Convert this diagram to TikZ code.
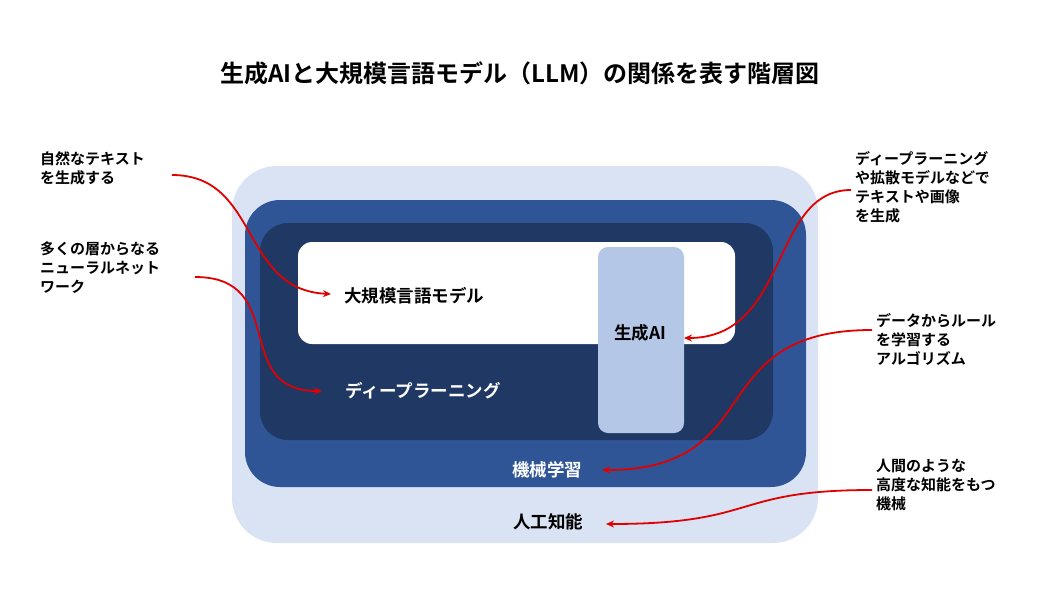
\documentclass[tikz,border=0pt]{standalone}
\usepackage{fontspec}
\setmainfont{Noto Sans CJK JP}[BoldFont={Noto Sans CJK JP Bold}]
\usetikzlibrary{arrows.meta}
\definecolor{ailight}{HTML}{DAE3F3}
\definecolor{mlblue}{HTML}{2F5597}
\definecolor{dlblue}{HTML}{203864}
\definecolor{genai}{HTML}{B4C7E7}
\definecolor{arr}{HTML}{E00000}
\tikzset{
 lab/.style={font=\bfseries\fontsize{17.5}{20}\selectfont},
 note/.style={font=\bfseries\fontsize{15}{19}\selectfont,align=left,anchor=north west,inner sep=0pt},
 conn/.style={draw=arr,line width=1.8pt,-{Stealth[length=8pt,width=7pt]}}
}
\begin{document}
\begin{tikzpicture}[x=1pt,y=-1pt]
\useasboundingbox (0,0) rectangle (1050,600);
\fill[white] (0,0) rectangle (1050,600);
\node[font=\bfseries\fontsize{24}{28}\selectfont] (title) at (520,73) {生成AIと大規模言語モデル（LLM）の関係を表す階層図};
\fill[ailight,rounded corners=45pt] (232,166) rectangle (818,543);
\fill[mlblue,rounded corners=35pt] (245,200) rectangle (806,487);
\fill[dlblue,rounded corners=28pt] (260,223) rectangle (773,440);
\fill[white,rounded corners=14pt] (298,242) rectangle (735,344);
\fill[genai,rounded corners=10pt] (598,247) rectangle (684,433);
\node[lab] (llm) at (414,296) {大規模言語モデル};
\node[lab] (gen) at (640,333) {生成AI};
\node[lab,text=white] (dl) at (423,391) {ディープラーニング};
\node[lab,text=white] (ml) at (547,470) {機械学習};
\node[lab] (ai) at (548,522) {人工知能};
\node[note] (n1) at (40,151) {自然なテキスト\\を生成する};
\node[note] (n2) at (40,241) {多くの層からなる\\ニューラルネット\\ワーク};
\node[note] (n3) at (855,151) {ディープラーニング\\や拡散モデルなどで\\テキストや画像\\を生成};
\node[note] (n4) at (876,313) {データからルール\\を学習する\\アルゴリズム};
\node[note] (n5) at (876,459) {人間のような\\高度な知能をもつ\\機械};
\coordinate (s1) at (172,175); \coordinate (e1) at (331,294);
\coordinate (s2) at (195,277); \coordinate (e2) at (322,391);
\coordinate (s3) at (851,190); \coordinate (e3) at (684,338);
\coordinate (s4) at (872,330); \coordinate (e4) at (602,470);
\coordinate (s5) at (872,490); \coordinate (e5) at (606,524);
\draw[conn] (s1) .. controls (260,175) and (240,290) .. (e1);
\draw[conn] (s2) .. controls (290,277) and (230,391) .. (e2);
\draw[conn] (s3) .. controls (770,190) and (790,338) .. (e3);
\draw[conn] (s4) .. controls (700,330) and (770,470) .. (e4);
\draw[conn] (s5) .. controls (730,490) and (760,524) .. (e5);
\end{tikzpicture}
\end{document}
